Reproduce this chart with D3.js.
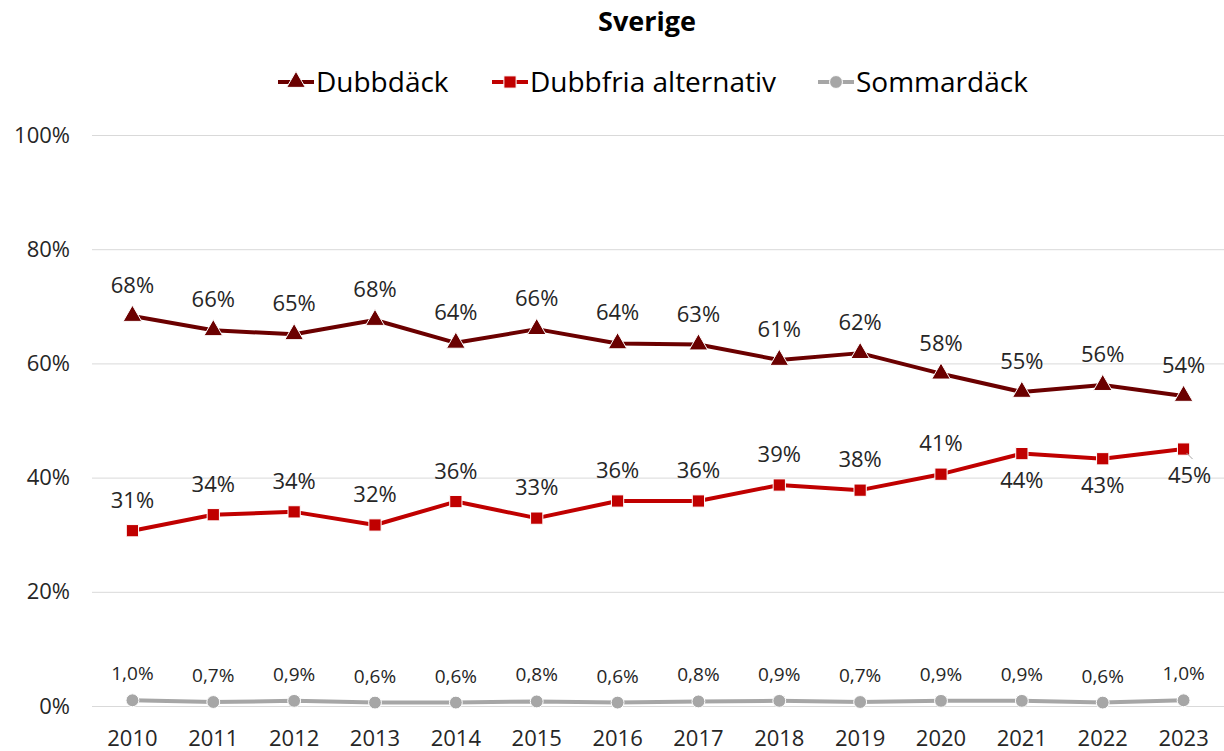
<!DOCTYPE html>
<html>
<head>
<meta charset="utf-8">
<script src="https://cdn.jsdelivr.net/npm/d3@7"></script>
<style>
  body { margin: 0; background: #fff; }
  svg text { font-family: 'Open Sans', 'Noto Sans', sans-serif; fill: #262626; }
</style>
</head>
<body>
<div id="chart"></div>
<script>
const years = ['2010', '2011', '2012', '2013', '2014', '2015', '2016', '2017', '2018', '2019', '2020', '2021', '2022', '2023'];
const dubbdack = [68.3, 65.8, 65.1, 67.6, 63.6, 66.0, 63.5, 63.3, 60.6, 61.8, 58.2, 55.0, 56.2, 54.3];
const dubbfria = [30.7, 33.5, 34.0, 31.7, 35.8, 32.9, 35.9, 35.9, 38.7, 37.8, 40.6, 44.2, 43.3, 45.0];
const sommardack = [1.0, 0.7, 0.9, 0.6, 0.6, 0.8, 0.6, 0.8, 0.9, 0.7, 0.9, 0.9, 0.6, 1.0];
const yTicks = [0, 20, 40, 60, 80, 100];

const width = 1224;
const height = 751;
const margins = { top: 135, right: 0, bottom: 45, left: 92 };
const font = "'Open Sans', 'Noto Sans', sans-serif";

const svg = d3.select('#chart').append('svg')
    .attr('width', width)
    .attr('height', height);

const x = d3.scaleBand()
    .domain(years)
    .range([margins.left, width - margins.right]);

const y = d3.scaleLinear()
    .domain([0, 100])
    .range([height - margins.bottom, margins.top]);

// gridlines
svg.append('g')
    .selectAll('line')
    .data(yTicks)
    .enter()
    .append('line')
    .attr('x1', margins.left)
    .attr('x2', width - margins.right)
    .attr('y1', d => y(d) + 0.5)
    .attr('y2', d => y(d) + 0.5)
    .style('stroke', '#d9d9d9')
    .style('stroke-width', 1);

// y axis labels
const yAxis = svg.append('g')
    .attr('transform', `translate(${margins.left},0)`)
    .call(d3.axisLeft(y).tickValues(yTicks).tickSize(0).tickPadding(22).tickFormat(d => `${d}%`));
yAxis.select('.domain').remove();
yAxis.selectAll('text').style('font-size', '22px').style('fill', '#262626').style('font-family', font);

// x axis labels
const xAxis = svg.append('g')
    .attr('transform', `translate(0,${y(0)})`)
    .call(d3.axisBottom(x).tickSize(0).tickPadding(24));
xAxis.select('.domain').remove();
xAxis.selectAll('text').style('font-size', '22px').style('fill', '#262626').style('font-family', font);

const cx = (d, i) => x(years[i]) + x.bandwidth() / 2;
const line = d3.line().x((d, i) => cx(d, i)).y(d => y(d));

const series = [
    { name: 'Dubbdäck', values: dubbdack, color: '#6b0000', marker: d3.symbolTriangle, size: 150 },
    { name: 'Dubbfria alternativ', values: dubbfria, color: '#c00000', marker: d3.symbolSquare, size: 150 },
    { name: 'Sommardäck', values: sommardack, color: '#a6a6a6', marker: d3.symbolCircle, size: 130 },
];

series.forEach(s => {
    svg.append('path')
        .datum(s.values)
        .attr('d', line)
        .style('fill', 'none')
        .style('stroke', s.color)
        .style('stroke-width', 4)
        .style('stroke-linejoin', 'round');

    svg.append('g')
        .selectAll('path')
        .data(s.values)
        .enter()
        .append('path')
        .attr('transform', (d, i) => `translate(${cx(d, i)},${y(d)})`)
        .attr('d', d3.symbol().type(s.marker).size(s.size))
        .style('fill', s.color)
        .style('stroke', '#fff')
        .style('stroke-width', 1);
});

// data labels
svg.append('g')
    .selectAll('text')
    .data(dubbdack)
    .enter()
    .append('text')
    .attr('x', (d, i) => cx(d, i))
    .attr('y', d => y(d) - 23)
    .attr('text-anchor', 'middle')
    .style('font-size', '22px')
    .text(d => `${Math.round(d)}%`);

svg.append('g')
    .selectAll('text')
    .data(dubbfria)
    .enter()
    .append('text')
    .attr('x', (d, i) => cx(d, i) + (i === 13 ? 6 : 0))
    .attr('y', (d, i) => (i >= 11 ? y(d) + 34 : y(d) - 23))
    .attr('text-anchor', 'middle')
    .style('font-size', '22px')
    .text(d => `${Math.round(d)}%`);

// small leader line for last label
svg.append('line')
    .attr('x1', cx(0, 13) + 3)
    .attr('y1', y(dubbfria[13]) + 4)
    .attr('x2', cx(0, 13) + 9)
    .attr('y2', y(dubbfria[13]) + 10)
    .style('stroke', '#a6a6a6')
    .style('stroke-width', 1);

svg.append('g')
    .selectAll('text')
    .data(sommardack)
    .enter()
    .append('text')
    .attr('x', (d, i) => cx(d, i))
    .attr('y', d => y(d) - 20)
    .attr('text-anchor', 'middle')
    .style('font-size', '19px')
    .text(d => `${d.toFixed(1).replace('.', ',')}%`);

// title
svg.append('text')
    .attr('x', 647)
    .attr('y', 31)
    .attr('text-anchor', 'middle')
    .style('font-size', '27px')
    .style('font-weight', 'bold')
    .style('fill', '#000')
    .text('Sverige');

// legend
const legendTextX = [316, 530, 856];
series.forEach((s, i) => {
    const g = svg.append('g').attr('transform', `translate(${legendTextX[i] - 38},82)`);
    g.append('line')
        .attr('x1', 0).attr('x2', 36)
        .style('stroke', s.color)
        .style('stroke-width', 4);
    g.append('path')
        .attr('transform', 'translate(18,0)')
        .attr('d', d3.symbol().type(s.marker).size(s.size))
        .style('fill', s.color)
        .style('stroke', '#fff')
        .style('stroke-width', 1);
    g.append('text')
        .attr('x', 38)
        .attr('y', 10)
        .style('font-size', '28px')
        .style('fill', '#000')
        .text(s.name);
});
</script>
</body>
</html>
